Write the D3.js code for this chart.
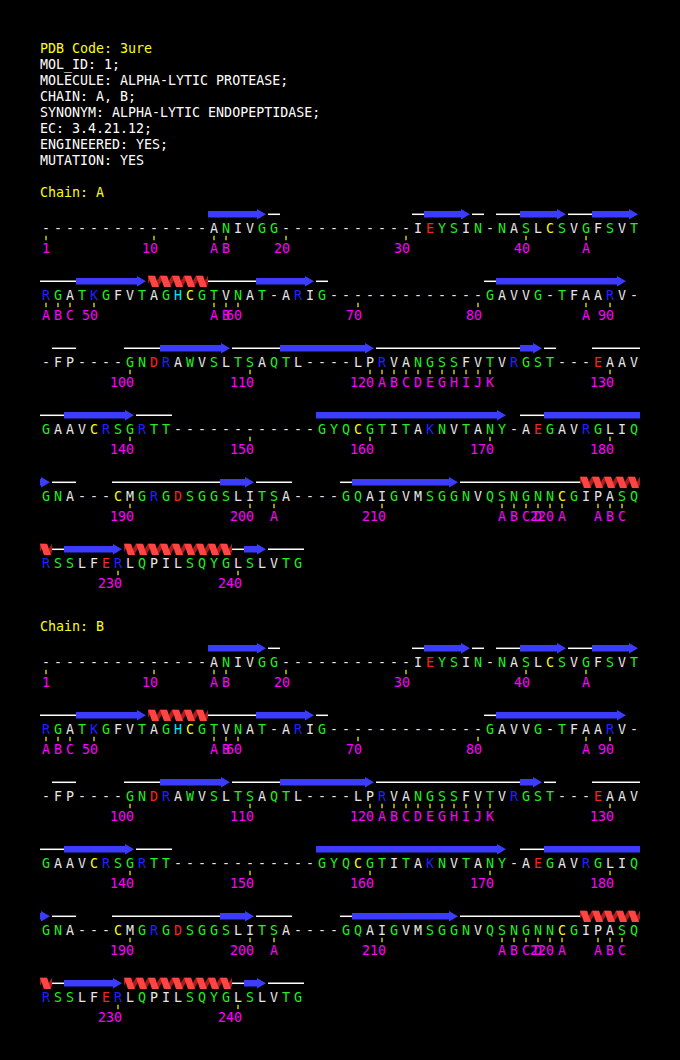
<!DOCTYPE html>
<html>
<head>
<meta charset="utf-8">
<script src="https://cdn.jsdelivr.net/npm/d3@7"></script>
<style>
  html, body { margin: 0; background: #000; }
  svg { display: block; }
</style>
</head>
<body>
<svg id="chart"></svg>
<script>
// header block
const headerLines = [
  "PDB Code: 3ure",
  "MOL_ID: 1;",
  "MOLECULE: ALPHA-LYTIC PROTEASE;",
  "CHAIN: A, B;",
  "SYNONYM: ALPHA-LYTIC ENDOPEPTIDASE;",
  "EC: 3.4.21.12;",
  "ENGINEERED: YES;",
  "MUTATION: YES"
];
const headerHighlight = [0]; // yellow lines

const chainIds = ["A", "B"];

// sequence, 50 residues per row ('-' = gap)
const seqRows = [
  "--------------ANIVGG-----------IEYSIN-NASLCSVGFSVT",
  "RGATKGFVTAGHCGTVNAT-ARIG-------------GAVVG-TFAARV-",
  "-FP----GNDRAWVSLTSAQTL----LPRVANGSSFVTVRGST---EAAV",
  "GAAVCRSGRTT------------GYQCGTITAKNVTANY-AEGAVRGLIQ",
  "GNA---CMGRGDSGGSLITSA----GQAIGVMSGGNVQSNGNNCGIPASQ",
  "RSSLFERLQPILSQYGLSLVTG"
];

// secondary structure per residue: E strand, H helix, - coil, blank none
const ssRows = [
  "              EEEEE-           -EEEE- --EEEE--EEEE",
  "---EEEEEEHHHHH----EEEEE-             -EEEEEEEEEEE ",
  " --    ---EEEEEE----EEEEEEEE------------EE-   ----",
  "--EEEEEE---            EEEEEEEEEEEEEEEE --EEEEEEEE",
  "E--   ---------EEE---    -EEEEEEEEE----------HHHHH",
  "H-EEEEEHHHHHHHHH-EE---"
];

// residue number labels: [column, text]
const numRows = [
  [[0, "1"], [9, "10"], [14, "A"], [15, "B"], [20, "20"], [30, "30"], [40, "40"], [45, "A"]],
  [[0, "A"], [1, "B"], [2, "C"], [4, "50"], [14, "A"], [15, "B"], [16, "60"], [26, "70"], [36, "80"], [45, "A"], [47, "90"]],
  [[7, "100"], [17, "110"], [27, "120"], [28, "A"], [29, "B"], [30, "C"], [31, "D"], [32, "E"], [33, "G"], [34, "H"], [35, "I"], [36, "J"], [37, "K"], [47, "130"]],
  [[7, "140"], [17, "150"], [27, "160"], [37, "170"], [47, "180"]],
  [[7, "190"], [17, "200"], [19, "A"], [28, "210"], [38, "A"], [39, "B"], [40, "C"], [41, "D"], [42, "220"], [43, "A"], [46, "A"], [47, "B"], [48, "C"]],
  [[6, "230"], [16, "240"]]
];

const resColor = {
  A: "#e6e6e6", V: "#e6e6e6", I: "#e6e6e6", L: "#e6e6e6", F: "#e6e6e6", M: "#e6e6e6", P: "#e6e6e6",
  G: "#22ee22", S: "#22ee22", T: "#22ee22", N: "#22ee22", Q: "#22ee22", Y: "#22ee22", W: "#22ee22",
  D: "#ff2020", E: "#ff2020",
  R: "#2020ff", K: "#2020ff",
  H: "#00e6ff",
  C: "#ffff00",
  "-": "#e6e6e6"
};

const width = 680, height = 1060;
const font = "'DejaVu Sans Mono', 'Liberation Mono', monospace";
const fontSize = "13.3px";

const svg = d3.select("#chart")
  .attr("width", width)
  .attr("height", height)
  .style("background", "#000")
  .style("font-family", font)
  .style("font-size", fontSize);

// column -> left edge of residue cell
const x = d3.scaleLinear().domain([0, 50]).range([40, 640]);
const cw = x(1) - x(0);
// row -> centre line of the secondary structure
const rowY = d3.scaleLinear().domain([0, 1]).range([214.3, 281.3]);
const chainY = d3.scaleLinear().domain([0, 1]).range([0, 434]);

// header
svg.append("g")
  .selectAll("text")
  .data(headerLines)
  .join("text")
  .attr("x", 40)
  .attr("y", (d, i) => 53 + 16 * i)
  .attr("fill", (d, i) => headerHighlight.includes(i) ? "#ffff00" : "#ffffff")
  .text(d => d);

// split a ss string into runs
function runs(str) {
  const out = [];
  let i = 0;
  while (i < str.length) {
    const t = str[i];
    let j = i;
    while (j + 1 < str.length && str[j + 1] === t) j++;
    if (t !== " ") out.push({ type: t, start: i, end: j });
    i = j + 1;
  }
  return out;
}

const ssAll = ssRows.join("");
let clipId = 0;

chainIds.forEach((chain, c) => {
  const g = svg.append("g").attr("transform", `translate(0,${chainY(c)})`);

  g.append("text")
    .attr("x", 40)
    .attr("y", 197)
    .attr("fill", "#ffff00")
    .text(`Chain: ${chain}`);

  const rows = g.selectAll("g.row")
    .data(seqRows.map((s, r) => ({ s, ss: ssRows[r], nums: numRows[r], r })))
    .join("g")
    .attr("class", "row")
    .attr("transform", d => `translate(0,${rowY(d.r)})`);

  rows.each(function (d) {
    const row = d3.select(this);
    const ssRuns = runs(d.ss);

    // coil lines
    row.selectAll("line.coil")
      .data(ssRuns.filter(e => e.type === "-"))
      .join("line")
      .attr("class", "coil")
      .attr("x1", e => x(e.start))
      .attr("x2", e => x(e.end + 1))
      .attr("y1", 0).attr("y2", 0)
      .attr("stroke", "#ffffff")
      .attr("stroke-width", 1.5);

    // strands
    row.selectAll("path.strand")
      .data(ssRuns.filter(e => e.type === "E"))
      .join("path")
      .attr("class", "strand")
      .attr("fill", "#3c3cff")
      .attr("d", e => {
        const next = ssAll[d.r * 50 + e.end + 1];
        const head = next !== "E";
        const x1 = x(e.start);
        if (!head) {
          const x2 = x(e.end + 1);
          return `M${x1},-3.2H${x2}V3.2H${x1}Z`;
        }
        const tip = x(e.end + 1) - 2;
        const hx = Math.max(x1, tip - 9);
        return `M${x1},-3.2H${hx}V-5.3L${tip},0L${hx},5.3V3.2H${x1}Z`;
      });

    // helices
    ssRuns.filter(e => e.type === "H").forEach(e => {
      const id = `hclip${clipId++}`;
      const t = -5.8, b = 5.8;
      row.append("clipPath").attr("id", id)
        .append("rect")
        .attr("x", x(e.start)).attr("y", t)
        .attr("width", x(e.end + 1) - x(e.start)).attr("height", b - t);
      const hg = row.append("g").attr("clip-path", `url(#${id})`);
      const cells = d3.range(e.start - 1, e.end + 2);
      hg.selectAll("polygon.back")
        .data(cells)
        .join("polygon")
        .attr("class", "back")
        .attr("fill", "#a81c1c")
        .attr("points", k => {
          const xc = x(k);
          return `${xc + 5},${b} ${xc + 10},${b} ${xc + 17},${t} ${xc + 12},${t}`;
        });
      hg.selectAll("polygon.front")
        .data(cells)
        .join("polygon")
        .attr("class", "front")
        .attr("fill", "#ff4444")
        .attr("points", k => {
          const xc = x(k);
          return `${xc},${t} ${xc + 7},${t} ${xc + 11},${b} ${xc + 4},${b}`;
        });
    });

    // residues
    row.selectAll("text.res")
      .data(d.s.split(""))
      .join("text")
      .attr("class", "res")
      .attr("x", (ch, i) => x(i) + cw / 2)
      .attr("y", 18.5)
      .attr("text-anchor", "middle")
      .attr("fill", ch => resColor[ch] || "#e6e6e6")
      .text(ch => ch);

    // ticks and numbers
    row.selectAll("line.tick")
      .data(d.nums)
      .join("line")
      .attr("class", "tick")
      .attr("x1", n => x(n[0]) + cw / 2)
      .attr("x2", n => x(n[0]) + cw / 2)
      .attr("y1", 21.5).attr("y2", 26)
      .attr("stroke", "#ffff00")
      .attr("stroke-width", 1.2);

    row.selectAll("text.num")
      .data(d.nums)
      .join("text")
      .attr("class", "num")
      .attr("x", n => x(n[0]) + cw / 2 + 4)
      .attr("y", 39)
      .attr("text-anchor", "end")
      .attr("fill", "#ff00ff")
      .text(n => n[1]);
  });
});
</script>
</body>
</html>
